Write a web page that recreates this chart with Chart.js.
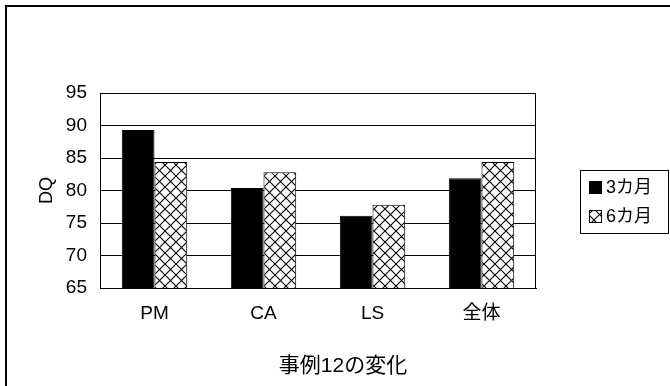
<!DOCTYPE html>
<html>
<head>
<meta charset="utf-8">
<script src="https://cdn.jsdelivr.net/npm/chart.js@4/dist/chart.umd.min.js"></script>
<style>
  html, body { margin: 0; padding: 0; background: #fff; }
  #wrap { width: 670px; height: 386px; }
</style>
</head>
<body>
<div id="wrap"><canvas id="c" width="670" height="386"></canvas></div>
<script>
// Chart data
const categories = ['PM', 'CA', 'LS', '全体'];
const seriesNames = ['3カ月', '6カ月'];
const month3 = [89.3, 80.4, 76.1, 81.9];
const month6 = [84.4, 82.8, 77.8, 84.4];
const yTicks = [65, 70, 75, 80, 85, 90, 95];
const yTitle = 'DQ';
const xTitle = '事例12の変化';

const FONT = "'Liberation Sans', 'Noto Sans CJK JP', Arial, sans-serif";

// Cross-hatch fill for the second series
function crossHatch(size) {
  const c = document.createElement('canvas');
  c.width = size; c.height = size;
  const g = c.getContext('2d');
  g.fillStyle = '#fff';
  g.fillRect(0, 0, size, size);
  g.strokeStyle = '#000';
  g.lineWidth = 1.1;
  g.beginPath();
  g.moveTo(0, 0); g.lineTo(size, size);
  g.moveTo(size, 0); g.lineTo(0, size);
  g.stroke();
  return document.getElementById('c').getContext('2d').createPattern(c, 'repeat');
}
const hatch = crossHatch(11);

// Page frame, plot frame, caption and boxed legend
const decorations = {
  id: 'decorations',
  afterDraw(chart) {
    const ctx = chart.ctx;
    const a = chart.chartArea;
    ctx.save();
    // page edges (top and left)
    ctx.fillStyle = '#000';
    ctx.fillRect(5, 5, 665, 2);
    ctx.fillRect(5, 5, 2, 381);
    // plot frame
    ctx.strokeStyle = '#000';
    ctx.lineWidth = 1;
    ctx.strokeRect(Math.round(a.left) + 0.5, Math.round(a.top) + 0.5,
                   Math.round(a.right - a.left) - 1, Math.round(a.bottom - a.top));
    // caption under the category axis, centred on the whole figure
    ctx.fillStyle = '#000';
    ctx.font = '21px ' + FONT;
    ctx.textAlign = 'center';
    ctx.textBaseline = 'middle';
    ctx.fillText(xTitle, 343, 366);
    // legend
    const bx = 580, by = 170, bw = 88, bh = 63;
    ctx.fillStyle = '#fff';
    ctx.fillRect(bx, by, bw, bh);
    ctx.strokeRect(bx + 0.5, by + 0.5, bw, bh);
    ctx.font = '18px ' + FONT;
    ctx.textAlign = 'left';
    chart.data.datasets.forEach((ds, i) => {
      const cy = 187 + i * 29;
      ctx.fillStyle = ds.backgroundColor;
      ctx.fillRect(589, cy - 6, 13, 13);
      ctx.strokeStyle = '#000';
      ctx.strokeRect(589.5, cy - 5.5, 12, 12);
      ctx.fillStyle = '#000';
      ctx.fillText(ds.label, 606, cy + 1);
    });
    ctx.restore();
  }
};

new Chart(document.getElementById('c'), {
  type: 'bar',
  data: {
    labels: categories,
    datasets: [
      { label: seriesNames[0], data: month3, backgroundColor: '#000', borderColor: '#000', borderWidth: 1 },
      { label: seriesNames[1], data: month6, backgroundColor: hatch, borderColor: '#000', borderWidth: 1 }
    ]
  },
  options: {
    responsive: false,
    animation: false,
    devicePixelRatio: 1,
    layout: { padding: { left: 0, right: 134, top: 93, bottom: 0 } },
    datasets: { bar: { categoryPercentage: 0.6, barPercentage: 1.0 } },
    plugins: {
      legend: { display: false },
      tooltip: { enabled: false }
    },
    scales: {
      x: {
        grid: { display: false, drawTicks: false },
        border: { display: true, color: '#000', width: 1 },
        ticks: { color: '#000', padding: 14, font: { family: FONT, size: 19 } },
        afterFit(s) { s.height = 98; }
      },
      y: {
        min: 65, max: 95,
        afterBuildTicks(s) { s.ticks = yTicks.map(v => ({ value: v })); },
        grid: { color: '#000', lineWidth: 1, drawTicks: false },
        border: { display: true, color: '#000', width: 1 },
        ticks: { color: '#000', padding: 13, font: { family: FONT, size: 19 } },
        title: {
          display: true, text: yTitle, color: '#000',
          font: { family: FONT, size: 18 },
          padding: { top: 36, bottom: 0 }
        },
        afterFit(s) { s.width = 100; }
      }
    }
  },
  plugins: [decorations]
});
</script>
</body>
</html>
